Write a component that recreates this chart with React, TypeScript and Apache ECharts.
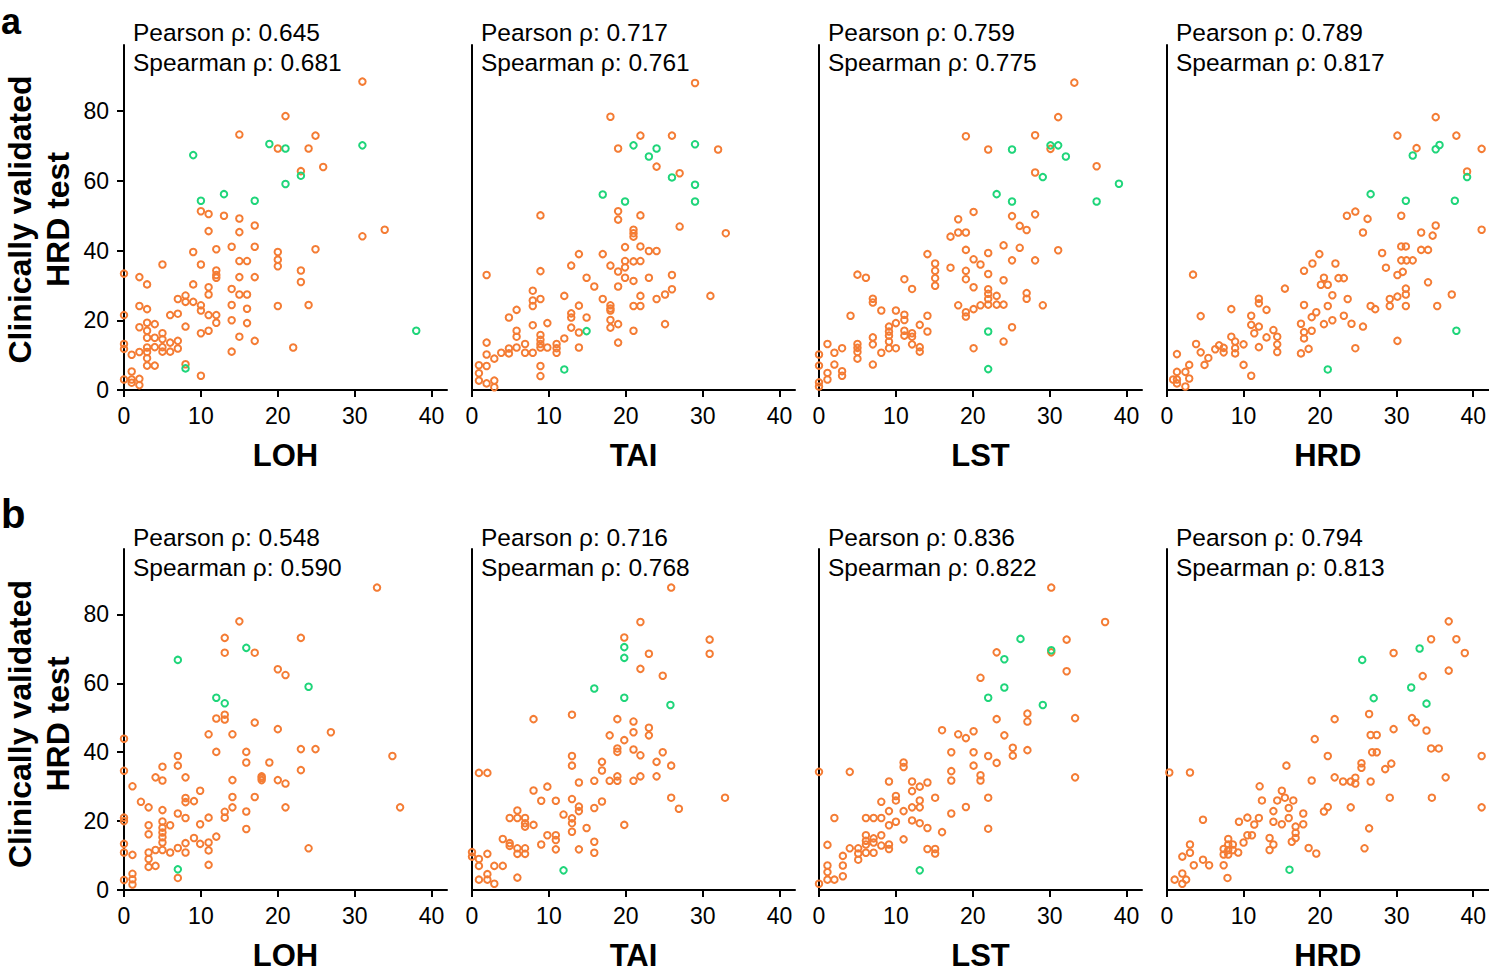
import React, { useEffect, useRef } from "react";
import * as echarts from "echarts";

const xNames = ["LOH", "TAI", "LST", "HRD"];
const pearsonA = ["0.645", "0.717", "0.759", "0.789"];
const spearmanA = ["0.681", "0.761", "0.775", "0.817"];
const pearsonB = ["0.548", "0.716", "0.836", "0.794"];
const spearmanB = ["0.590", "0.768", "0.822", "0.813"];
const xTicks = [0, 10, 20, 30, 40];
const yTicks = [0, 20, 40, 60, 80];

const aLohOrange = [[31,88.5],[21,78.6],[15,73.3],[24.9,73],[20,69.3],[24,69.3],[25.9,64],[23,62.8],
[10,51.3],[11,50.5],[13,50],[15,49.2],[17,47.2],[11,45.6],[15,45.3],[31,44.1],[33.9,46],
[14,41.1],[17,41.1],[12,40.4],[24.9,40.4],[20,39.6],[9,39.6],[20,37.4],[20,35.5],[15,37],[16,37],[5,36],[10,36],
[0,33.4],[12,34.3],[12,33],[12,32.2],[2,32.4],[15,32.4],[17,32.4],[23,34.3],[23,31],
[3,30.3],[9,30.3],[11,29.5],[11,27.4],[14,29],[15,27.4],[16,27.4],[8,27.1],[7,26.1],[8,25.3],[9,25.3],[10,24.3],[10,22.8],
[2,24.1],[3,23.2],[14,24.4],[16,23.3],[20,24.1],[24,24.4],
[7,21.9],[6,21.5],[11,21.5],[12,21.5],[0,21.5],[12,19.3],[14,20],[16,19.2],[3,19.3],[4,18.9],[2,18],[8,18.2],[3,17],[11,17],[10,16.3],[5,16.3],[3,15],[4,15],[5,14.6],[15,15.3],[17,14.1],[7,14.1],[6,13.6],[0,13.2],[0,11.8],[3,12.2],[4,12.3],[5,12.3],[7,11.9],[2,10.9],[3,10.9],[5,11],[6,11],[14,11],[22,12.2],
[1,10.1],[3,9.1],[3,7],[4,7],[8,7.4],[1,5.3],[10,4.1],[0,3],[1,3],[2,3.2],[1,2.1],[2,1.4]];
const aLohGreen = [[9,67.4],[18.9,70.6],[21,69.3],[31,70.2],[23,61.5],[21,59.1],[13,56.2],[10,54.3],[17,54.3],[38,17],[8,6.2]];

const aTaiOrange = [[29,88.1],[18,78.4],[21.9,73],[26,73],[19,69.3],[32,69],[24,64.1],[27,62.2],
[8.9,50.1],[19,51.3],[19,48.9],[21.9,50.1],[27,46.9],[33,45],[21,46],[21,45],[21,44],
[19.9,41],[21.9,41.2],[23,39.9],[24,39.9],[13.9,39],[17,39],[18,35.7],[19.9,37],[21,36.9],[21.9,37],[19.9,35.2],[19,34],[12.9,35.7],[1.9,33],[8.9,34.1],
[14.9,32.2],[19.9,32.2],[21,31.3],[23,32.2],[26,33],[15.9,29.7],[19,29.7],[26,28.9],[25.1,27.4],[24,26.1],[21.9,27],[31,27],
[7.9,28.5],[7.9,25.7],[7.9,24.1],[8.9,26.1],[12,27],[17,26.1],[13.9,24.2],[18,24.3],[18,23.4],[18,22.8],[21,24.1],[21.9,24.1],
[5.8,23],[4.8,20.8],[12.9,22],[12.9,20.8],[14.9,20.8],[9.8,19.2],[7.9,18.6],[12.9,17.9],[13.9,16.5],[18,20.1],[18,17.9],[19,18.9],[21,17],[25.1,18.9],[19,13.6],
[5.8,17],[5.8,15.3],[8.9,15.8],[8.9,14.4],[8.9,13.2],[12,14.8],[1.9,13.6],[6.9,13.2],[5.8,12.2],[4.8,11.9],[4.8,10.5],[3.8,10.7],[6.9,10.7],[7.9,10.7],[8.9,12.2],[9.8,12.2],[11,13.2],[11,12],[11,10.7],[13.9,12.2],
[1.9,10.2],[2.9,9],[0.9,7.1],[1.9,6.9],[8.9,6.9],[8.9,4],[0.9,4.8],[0.9,2.7],[1.9,1.9],[2.9,2.7],[2.9,0.8]];
const aTaiGreen = [[21,70.2],[24,69.3],[29,70.5],[23,67],[26,61],[29,58.9],[17,56.1],[19.9,54.1],[29,54.1],[14.9,16.9],[12,5.9]];

const aLstOrange = [[33.2,88.2],[31.1,78.3],[19.1,72.8],[28.1,73.1],[22,69],[30.1,69.2],[36.1,64.2],[28.1,62.4],
[20.1,51.1],[18.1,49],[25.1,49.9],[28.1,50.4],[17.1,44],[18.1,45.2],[19.1,45.2],[26.1,47.1],[27,45.9],
[19.1,40.2],[22,39.3],[24,41.5],[26.1,40.8],[31.1,40.1],[14.1,39],[20.1,37.5],[21,36],[25.1,37.2],[28.1,37.2],
[15.1,36.3],[15.1,34.2],[15.1,32.1],[15.1,29.9],[17.1,35.1],[19.1,34.2],[19.1,31.8],[22,33.3],[5,33.1],[6.1,32.2],[11.1,31.8],[12.1,29],[20.1,29.5],[24,31.5],
[22,28.9],[22,27.6],[22,26.1],[22,24.5],[23.1,27],[23.1,24.5],[24,24.5],[21,24.3],[20.1,23.2],[19.1,22.3],[19.1,21.1],[18.1,24.3],[27,27.8],[27,26.2],[29.1,24.3],
[7,26.2],[7,25.1],[8.1,22.8],[10,22.8],[11.1,21.6],[11.1,20.1],[4.1,21.3],[14.1,21.3],[10,19.2],[9.1,18.2],[9.1,16.8],[9.1,15.6],[13.1,18.7],[11.1,17],[11.1,15.6],[12.1,16.3],[12.1,15.3],[14.1,16.8],
[7,15.1],[7,13.1],[12.1,13.1],[9.1,13.9],[9.1,12],[10,12],[8.1,10.7],[13.1,12.3],[13.1,11],[5,13.2],[5,12.1],[5,10.9],[5,9],[3,12],[2,10.7],[1.1,13.2],[0,10.2],[0,7],[2,7.3],[7,7.3],[1.1,4.9],[1.1,3],[3,5.4],[3,4.1],[0,2.2],[0,1],
[20.1,12],[24,13.9],[25.1,18]];
const aLstGreen = [[25.1,69],[30.1,70.2],[31.1,70.2],[32.1,67],[29.1,61.1],[39,59.2],[23.1,56.2],[25.1,54.1],[36.1,54.1],[22,16.8],[22,6]];

const aHrdOrange = [[35.1,78.3],[30.1,73],[37.8,73],[41.1,69.2],[32.6,69.4],[39.2,62.7],[41.1,46],
[23.5,50],[24.6,51.2],[26.2,49.1],[25.6,45.2],[30.6,50],[35.1,47.2],[33.2,45.2],[34.7,44.3],
[19.9,39],[19,36.3],[17.9,34.2],[22,36.3],[28.1,39.3],[30.6,41.2],[31.2,41.2],[33.2,40.2],[34.1,40.2],[30.6,37.2],[31.3,37.2],[32.1,37.2],[28.6,35.1],[30.1,33],[30.8,33.9],
[20.5,32.2],[20.1,30.2],[21,30.2],[22.4,32.1],[23.1,32.1],[34.1,30.9],[3.4,33.1],[15.4,29.1],[21.6,27.2],[23.6,26.1],[31.2,29.1],[31.2,27.4],[30.1,26.8],[29.1,26.1],
[12,26.2],[12,24.9],[13,23],[8.4,23.2],[17.9,24.4],[21,24.1],[19.5,22.3],[18.9,20.9],[26.6,24.1],[27.2,23.2],[29.1,24.1],[31.2,24.1],[35.3,24.1],[37.2,27.4],
[4.4,21.2],[11,21.3],[11,18.7],[12,18.2],[11.4,16.3],[13,15.1],[13.9,17.2],[14.4,15.3],[14.4,13.1],[14.4,10.9],[12,12.3],[17.5,19],[17.9,16.6],[17.9,14.8],[18.9,17],[20.5,18.9],[21.6,20],[23.1,21.3],[24.1,19],[25.6,18.2],[24.6,12],[30.1,14.1],[17.5,10.5],[18.5,11.8],
[8.4,15.3],[8.9,13.9],[8.9,12],[8.9,10.5],[10,13.1],[6.8,12.8],[7.4,12.1],[7.4,10.8],[6.3,11.7],[3.8,13.2],[4.4,10.8],[1.3,10.3],[5.4,9.2],[4.9,7.2],[2.9,7.2],[10,7.2],[11,4.1],[1.3,5.2],[2.4,5.2],[2.9,3.3],[0.8,3],[1.3,3],[1.3,1.9],[2.4,1]];
const aHrdGreen = [[32.1,67.3],[35.1,69.1],[35.6,70.3],[39.2,61.1],[26.6,56.2],[31.2,54.3],[37.6,54.3],[37.8,17],[21,5.9]];

const bLohOrange = [[32.9,87.8],[15,78],[13.1,73.2],[23,73.2],[13.1,68.9],[17,68.9],[20,64.1],[21,62.4],
[12,49.8],[13.1,50.9],[13.1,49.5],[17,48.6],[20,46.7],[26.9,45.8],[11,45.2],[14.1,45.2],[0,43.9],
[12,40.1],[15.9,40.1],[23,40.9],[24.9,40.9],[34.9,38.9],[7,38.9],[15.9,37],[18.9,37],[0,34.6],[7,36.1],[5,35.8],[23,34.8],
[4.1,32.7],[5,31.8],[8,32.7],[17.9,33],[17.9,32.5],[17.9,31.9],[14.1,31.9],[20,31.9],[21,30.9],[1.1,30.1],[9.9,28.8],
[8,26.7],[8,25.5],[9.1,25.8],[14.1,27],[17,27],[2.2,25.6],[3.2,24],[5,23.2],[7,22.2],[8,20.9],[11,21],[13.1,22.7],[13.1,21],[14.1,24],[15.9,22.8],[21,24],[35.9,24],
[0,21],[0,20],[3.2,18.8],[3.2,16.2],[5,19.9],[5,18.1],[5,16.7],[5,15.3],[5,13.8],[5,11.6],[6,18.8],[9.9,19.1],[9.1,15.1],[8,13.6],[8,10.9],[9.9,13.4],[11,13.8],[11,11.5],[11,7.3],[12,15.5],[15.9,17.7],[24,12.1],
[0,13.4],[0,10.9],[1.1,10.2],[3.2,10.9],[3.2,9],[3.2,6.7],[4.1,11.6],[4.1,7],[6,10.9],[7,12.2],[7,3.5],[0,2.9],[1.1,4.7],[1.1,3.1],[1.1,1.6]];
const bLohGreen = [[15.9,70.3],[7,66.8],[24,59],[12,55.8],[13.1,54.2],[7,6]];

const bTaiOrange = [[25.9,87.8],[21.9,77.8],[19.8,73.3],[23,68.6],[30.9,72.7],[30.9,68.6],[21.9,64.2],[24.8,62.2],
[8,49.6],[13,50.9],[18.9,49.6],[21,48.9],[21,45.8],[23,47.1],[23,44.9],[17.9,44.9],[19.8,43.5],[18.9,41.1],[18.9,40.1],[21,40.8],[21.9,39.1],[24.8,40],
[13,38.9],[13,36.1],[16.9,37.2],[16.9,34.7],[24,37.2],[25.9,36.1],[0.9,34],[2,34],[13.9,31.2],[15.9,31.7],[17.9,31.7],[18.9,31.7],[18.9,33],[21,31.7],[21.9,33],[24,33],
[8,28.9],[9.8,30],[9,25.9],[10.9,25.9],[13,26.4],[13.9,24.2],[13.9,22.9],[15.9,23.8],[16.9,25.7],[25.9,26.8],[32.9,26.8],[26.9,23.6],
[5.9,23.1],[4.9,20.9],[5.9,20.9],[6.9,20.9],[6.9,19.4],[6.9,18.4],[8,18.9],[11.9,21.9],[13,20.8],[13,19.4],[13,16.9],[14.9,18],[19.8,18.9],
[9.8,15.9],[10.9,15.9],[10.9,14.5],[10.9,11.8],[9,13.2],[13.9,11.8],[15.9,14],[15.9,10.8],[4,14.8],[4.9,13.6],[4.9,12.8],[5.9,12.1],[5.9,10.5],[6.9,12.1],[6.9,10.5],[2,10.5],[0,11],[0,9.7],[0.9,9],[0.9,7],[2.9,7],[4,7],[5.9,3.6],[0.9,3],[2,4.6],[2,3],[2.9,1.8]];
const bTaiGreen = [[19.8,70.5],[19.8,67.4],[15.9,58.5],[19.8,55.8],[25.8,53.7],[11.9,5.7]];

const bLstOrange = [[30.2,87.8],[37.2,77.8],[32.2,72.7],[23.1,69],[30.2,69],[32.2,63.5],[21,61.6],
[27.1,51.2],[27.1,48.9],[33.3,49.9],[23.1,49.6],[24.1,44.9],[16,46.4],[18.1,45.2],[19.1,44.1],[20.1,46.1],[25.2,41.3],[25.2,39],[27.1,40.6],[17.2,40],[20.1,40],[22,38.9],[23.1,36.9],[20.1,36.1],
[0,34.3],[4,34.3],[11,37],[11,35.7],[17.2,34.5],[17.2,31.8],[21,33.3],[21,31.8],[33.3,32.7],[9.1,31.5],[12.1,31.5],[12.1,28.7],[13.1,30],[14.1,31.2],
[10,27.3],[10,26],[8.1,25.6],[13.1,26],[15.1,26.8],[22,26.8],[12.1,24],[13.1,24],[11,22.9],[9.1,22.9],[19.1,24.1],[17.2,22.2],
[2,20.9],[6.1,20.9],[7.1,20.9],[8.1,20.9],[9.1,18.8],[10,19.8],[12.1,20.2],[13.1,19.4],[14.1,18],[16,16.8],[22,17.8],[11,14.7],
[6.1,15.9],[6.1,14.3],[6.1,13.2],[6.1,10.8],[7.1,15],[7.1,13.8],[7.1,10.8],[8.1,15.9],[8.1,12.9],[9.1,13.2],[9.1,11.9],[5.1,12.1],[5.1,10.6],[5.1,8.8],[4,12.1],[3.1,9.9],[3.1,7.1],[3.1,4],[1.1,13.1],[14.1,11.9],[15.1,11.9],[15.1,10.6],
[1.1,7.1],[1.1,5.2],[1.1,3],[2,3],[0,1.8]];
const bLstGreen = [[26.2,72.9],[24.1,67],[30.2,69.6],[24.1,58.8],[22,55.8],[29.1,53.7],[13.1,5.7]];

const bHrdOrange = [[36.8,78],[34.5,72.8],[37.8,72.8],[29.6,68.8],[38.9,68.8],[36.8,63.7],[33.4,62.1],
[21.9,49.6],[26.4,51.1],[32,49.9],[32.5,48.7],[19.3,43.8],[26.6,45],[27.4,45],[29.6,46.7],[33.9,46.3],
[21,38.9],[26.8,40],[27.4,40],[34.5,41.1],[35.5,41.1],[41.1,38.9],[0.3,34.1],[3,34.1],[15.6,36.1],[18.9,31.8],[21.9,32.7],[23,31.5],[24,31.5],[24.6,30.9],[24.6,32.6],[25.4,36.8],[25.4,35.5],[26.6,31.5],[28.5,35.1],[29.3,36.7],[36.4,32.7],
[29.1,26.8],[34.6,26.8],[41.1,24],[24,24],[20.5,22.8],[21,24.1],
[12.1,30.1],[12.4,26],[15,28.8],[14.4,26],[15.4,26.8],[16.5,26],[13.9,22.9],[15.9,23.8],[15.9,20.9],[17.8,22.2],[12,20.9],[10.5,21],[9.4,19.8],[11.4,19],[13.9,19.8],[15,19.1],[17.8,19.1],[16.8,18.4],[16.8,16.6],[16.8,15.1],[16.3,14],
[10.5,15.9],[11.1,15.9],[13.4,15.1],[13.9,13.2],[13.4,11.6],[10,13.8],[9.3,10.9],[18.5,12.2],[19.5,10.6],[25.8,12.1],[26.4,17.9],
[8,14.8],[8,13.2],[8,11.6],[7.4,11.9],[7.4,10.3],[8,10.3],[8.6,13.2],[8.6,11.6],
[4.7,20.4],[3,13.2],[3,10.8],[2,9.7],[4.7,8.8],[5.5,7.2],[3.5,7.2],[7.4,7.2],[7.9,3.5],[2,4.8],[1,3],[2,1.8],[2.5,3]];
const bHrdGreen = [[33,70.1],[25.5,66.8],[31.9,58.8],[27,55.7],[33.9,54.1],[16,5.9]];

const orangeSets = [aLohOrange, aTaiOrange, aLstOrange, aHrdOrange, bLohOrange, bTaiOrange, bLstOrange, bHrdOrange];
const greenSets = [aLohGreen, aTaiGreen, aLstGreen, aHrdGreen, bLohGreen, bTaiGreen, bLstGreen, bHrdGreen];

const ORANGE = "#F47C34";
const GREEN = "#1FD57A";
const FONT = "'Liberation Sans', Arial, Helvetica, sans-serif";

const LEFTS = [124, 472, 819, 1167];
const PW = 323;
const ROWS = [
  { top: 45, height: 345 },
  { top: 549, height: 346 },
];

export default function App() {
  const ref = useRef<HTMLDivElement>(null);
  useEffect(() => {
    if (!ref.current) return;
    const chart = echarts.init(ref.current, null, { renderer: "svg" });
    const grids: any[] = [];
    const xAxes: any[] = [];
    const yAxes: any[] = [];
    const series: any[] = [];
    const graphics: any[] = [];
    for (let r = 0; r < 2; r++) {
      for (let c = 0; c < 4; c++) {
        const i = r * 4 + c;
        grids.push({ left: LEFTS[c], top: ROWS[r].top, width: PW, height: ROWS[r].height, containLabel: false });
        xAxes.push({
          gridIndex: i, type: "value", min: 0, max: 42, interval: 10,
          axisLine: { show: true, onZero: false, lineStyle: { color: "#000", width: 2 } },
          axisTick: { show: true, length: 7, customValues: xTicks, lineStyle: { color: "#000", width: 2 } },
          axisLabel: { customValues: xTicks, fontSize: 23, color: "#000", margin: 14, fontFamily: FONT },
          splitLine: { show: false },
          name: xNames[c], nameLocation: "middle", nameGap: 50,
          nameTextStyle: { fontSize: 31, fontWeight: "bold", color: "#000", fontFamily: FONT },
        });
        yAxes.push({
          gridIndex: i, type: "value", min: 0, max: 99, interval: 20,
          axisLine: { show: true, onZero: false, lineStyle: { color: "#000", width: 2 } },
          axisTick: { show: c === 0, length: 7, customValues: yTicks, lineStyle: { color: "#000", width: 2 } },
          axisLabel: { show: c === 0, customValues: yTicks, fontSize: 23, color: "#000", margin: 15, fontFamily: FONT },
          splitLine: { show: false },
        });
        series.push({
          type: "scatter", xAxisIndex: i, yAxisIndex: i, data: orangeSets[i],
          symbol: "circle", symbolSize: 6.5, silent: true, z: 2,
          itemStyle: { color: "rgba(255,255,255,0)", borderColor: ORANGE, borderWidth: 2, opacity: 1 },
        });
        series.push({
          type: "scatter", xAxisIndex: i, yAxisIndex: i, data: greenSets[i],
          symbol: "circle", symbolSize: 6.5, silent: true, z: 3,
          itemStyle: { color: "rgba(255,255,255,0)", borderColor: GREEN, borderWidth: 2, opacity: 1 },
        });
        const p = r === 0 ? pearsonA[c] : pearsonB[c];
        const s = r === 0 ? spearmanA[c] : spearmanB[c];
        const py = r === 0 ? 32 : 537;
        graphics.push({
          type: "text", x: LEFTS[c] + 9, y: py, z: 10,
          style: { text: "Pearson ρ: " + p, font: "24.5px " + FONT, fill: "#000", align: "left", verticalAlign: "middle" },
        });
        graphics.push({
          type: "text", x: LEFTS[c] + 9, y: py + 30.5, z: 10,
          style: { text: "Spearman ρ: " + s, font: "24.5px " + FONT, fill: "#000", align: "left", verticalAlign: "middle" },
        });
      }
      const cy = ROWS[r].top + ROWS[r].height / 2 + 2;
      graphics.push({
        type: "text", x: 20, y: cy, rotation: Math.PI / 2, z: 10,
        style: { text: "Clinically validated", font: "bold 32px " + FONT, fill: "#000", align: "center", verticalAlign: "middle" },
      });
      graphics.push({
        type: "text", x: 58, y: cy, rotation: Math.PI / 2, z: 10,
        style: { text: "HRD test", font: "bold 32px " + FONT, fill: "#000", align: "center", verticalAlign: "middle" },
      });
    }
    graphics.push({
      type: "text", x: 1, y: 21, z: 10,
      style: { text: "a", font: "bold 36px " + FONT, fill: "#000", align: "left", verticalAlign: "middle" },
    });
    graphics.push({
      type: "text", x: 1, y: 514, z: 10,
      style: { text: "b", font: "bold 40px " + FONT, fill: "#000", align: "left", verticalAlign: "middle" },
    });
    chart.setOption({
      animation: false,
      backgroundColor: "#fff",
      textStyle: { fontFamily: FONT },
      grid: grids,
      xAxis: xAxes,
      yAxis: yAxes,
      series,
      graphic: graphics,
    });
    return () => chart.dispose();
  }, []);
  return (
    <div
      ref={ref}
      style={{ position: "fixed", left: 0, top: 0, width: 1489, height: 972, background: "#fff" }}
    />
  );
}
